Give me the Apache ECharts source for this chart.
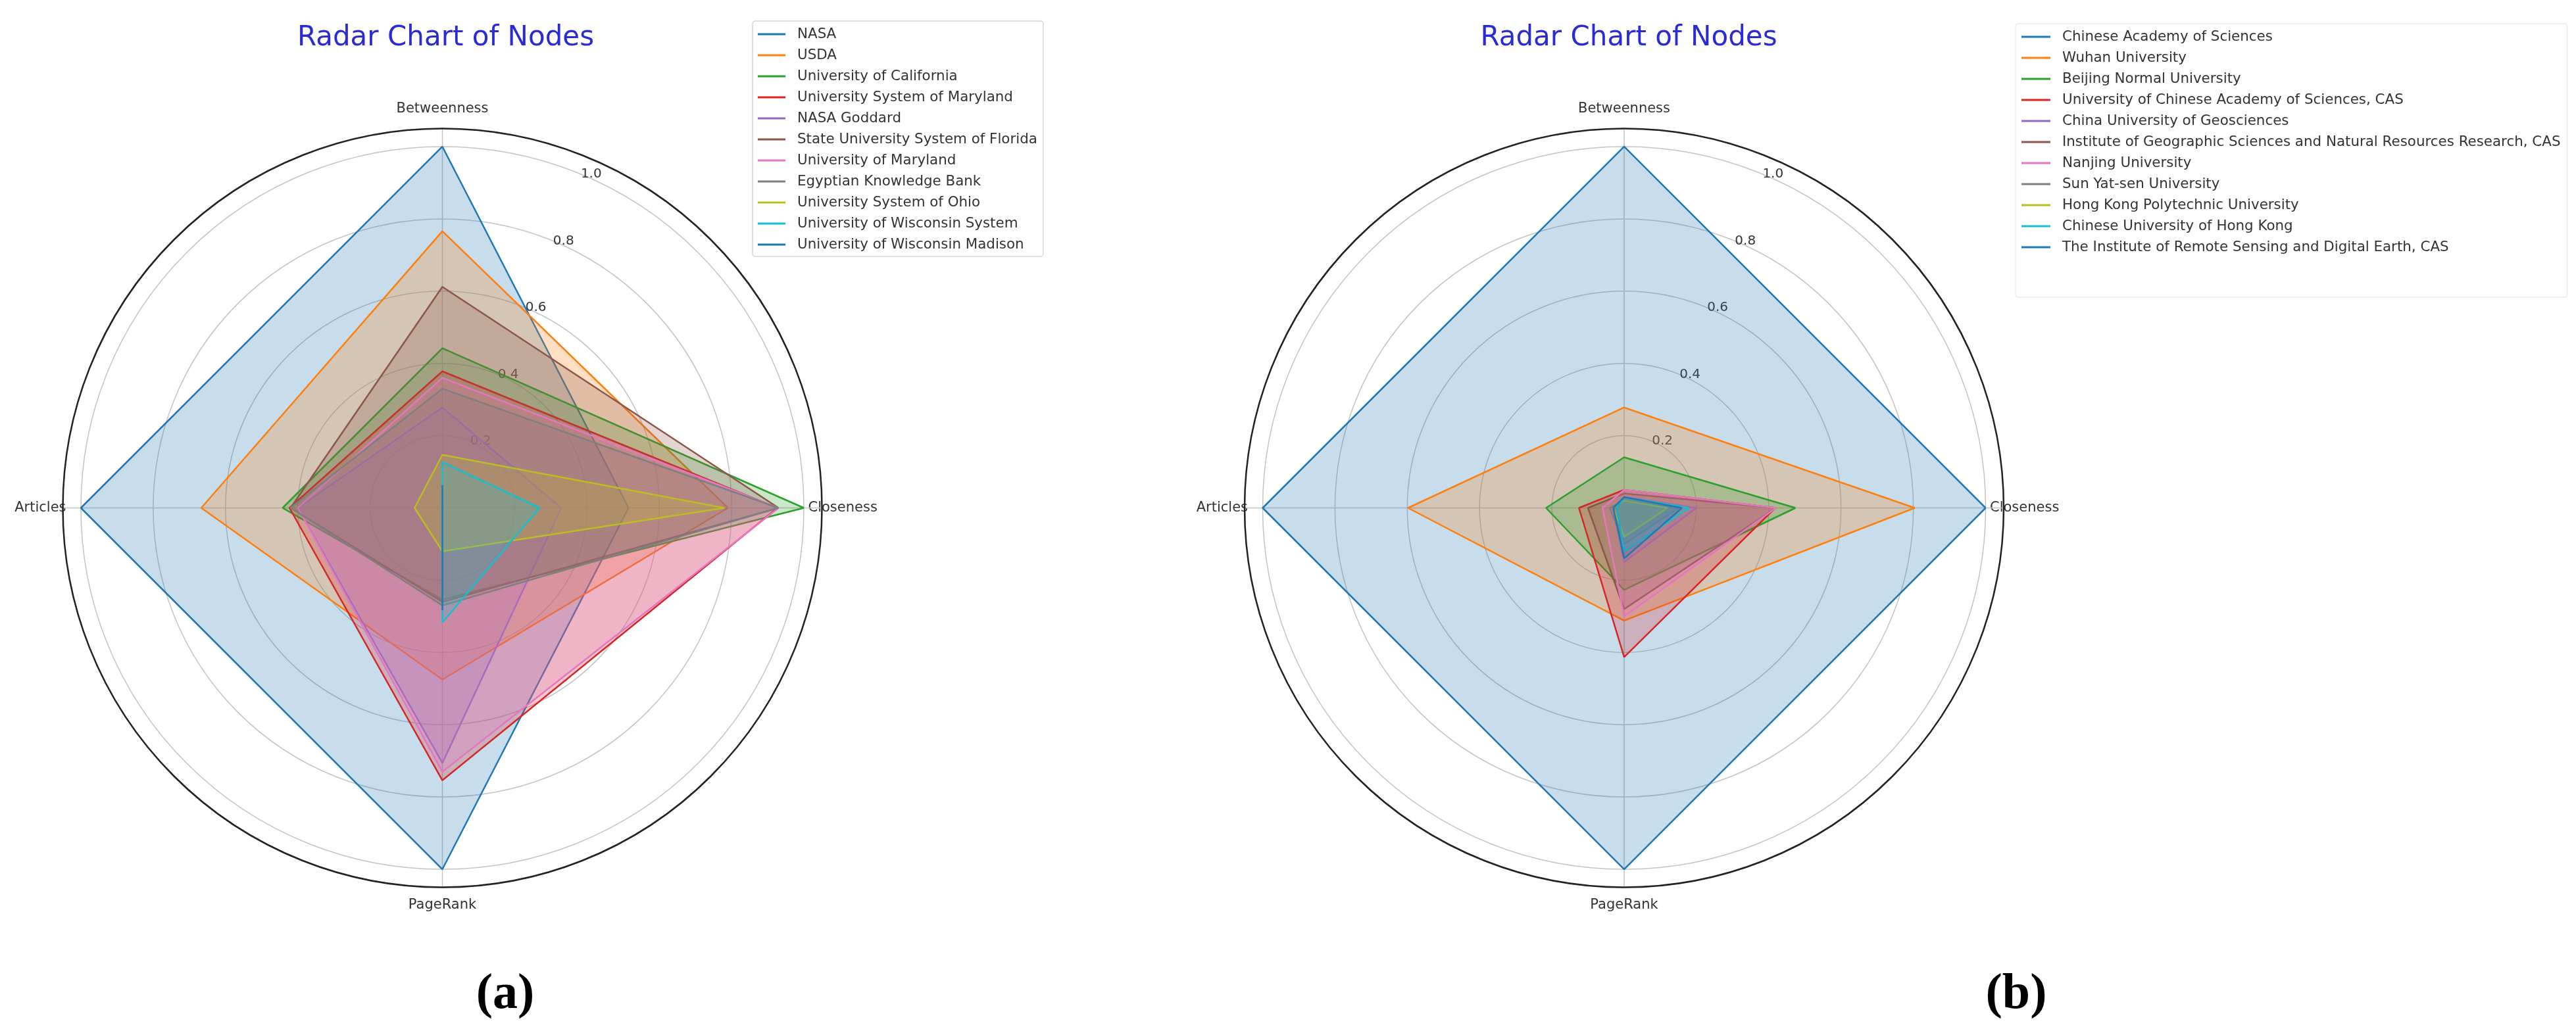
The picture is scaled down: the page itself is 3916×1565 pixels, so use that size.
<!DOCTYPE html>
<html>
<head>
<meta charset="utf-8">
<title>Radar Chart of Nodes</title>
<script src="https://cdn.jsdelivr.net/npm/echarts@6/dist/echarts.min.js"></script>
<style>
  html, body { margin: 0; padding: 0; background: #fff; }
  #chart { width: 3916px; height: 1565px; }
</style>
</head>
<body>
<div id="chart"></div>
<script>
// axes of both radars, counter-clockwise from the right
const indicators = ['Closeness', 'Betweenness', 'Articles', 'PageRank']

// panel (a)
const namesA = [
  'NASA', 'USDA', 'University of California', 'University System of Maryland',
  'NASA Goddard', 'State University System of Florida', 'University of Maryland',
  'Egyptian Knowledge Bank', 'University System of Ohio',
  'University of Wisconsin System', 'University of Wisconsin Madison'
]
const closenessA   = [0.515, 0.79, 1.0, 0.927, 0.329, 0.93, 0.93, 0.93, 0.78, 0.269, 0.0]
const betweennessA = [1.0, 0.766, 0.442, 0.378, 0.278, 0.612, 0.36, 0.33, 0.147, 0.127, 0.063]
const articlesA    = [1.0, 0.667, 0.442, 0.423, 0.40, 0.42, 0.40, 0.42, 0.077, 0.0, 0.0]
const pageRankA    = [1.0, 0.475, 0.254, 0.754, 0.706, 0.26, 0.73, 0.27, 0.12, 0.317, 0.283]

// panel (b)
const namesB = [
  'Chinese Academy of Sciences', 'Wuhan University', 'Beijing Normal University',
  'University of Chinese Academy of Sciences, CAS', 'China University of Geosciences',
  'Institute of Geographic Sciences and Natural Resources Research, CAS',
  'Nanjing University', 'Sun Yat-sen University', 'Hong Kong Polytechnic University',
  'Chinese University of Hong Kong', 'The Institute of Remote Sensing and Digital Earth, CAS'
]
const closenessB   = [1.0, 0.804, 0.474, 0.418, 0.20, 0.42, 0.42, 0.15, 0.12, 0.18, 0.16]
const betweennessB = [1.0, 0.278, 0.14, 0.05, 0.03, 0.04, 0.05, 0.02, 0.02, 0.03, 0.03]
const articlesB    = [1.0, 0.598, 0.216, 0.125, 0.03, 0.10, 0.06, 0.04, 0.03, 0.02, 0.03]
const pageRankB    = [1.0, 0.312, 0.227, 0.413, 0.15, 0.28, 0.30, 0.10, 0.08, 0.12, 0.14]

const radialTicks = [0.2, 0.4, 0.6, 0.8, 1.0]

const palette = ['#1f77b4', '#ff7f0e', '#2ca02c', '#d62728', '#9467bd',
  '#8c564b', '#e377c2', '#7f7f7f', '#bcbd22', '#17becf']

const chart = echarts.init(document.getElementById('chart'), null, { renderer: 'canvas' })

const step = 360 / indicators.length
const rMax = 1.05
const centers = [[672.5, 772.5], [2469, 772.5]]
const radius = 577
const labelFont = 'DejaVu Sans'

const buildSeries = (names, cols, polarIndex) => names.map((name, i) => {
  const vals = cols.map(c => c[i])
  const pts = vals.map((v, k) => [v, k * step])
  pts.push([vals[0], 360])
  const color = palette[i % palette.length]
  return {
    name,
    type: 'line',
    coordinateSystem: 'polar',
    polarIndex,
    data: pts,
    symbol: 'none',
    silent: true,
    lineStyle: { width: 2.5, color },
    itemStyle: { color },
    areaStyle: { color, opacity: 0.25 },
    z: 3 + i
  }
})

const rich = {
  r: {},
  t: { padding: [0, 0, 40, 0] },
  l: { padding: [0, 16, 0, 0] },
  b: { padding: [38, 0, 0, 0] }
}
const posKey = ['r', 't', 'l', 'b']

const polar = []
const angleAxis = []
const radiusAxis = []
centers.forEach((c) => {
  // main polar: grid circles, spokes, category labels
  polar.push({ center: c, radius })
  angleAxis.push({
    polarIndex: polar.length - 1,
    type: 'value',
    min: 0,
    max: 360,
    interval: step,
    startAngle: 0,
    clockwise: false,
    axisLine: { lineStyle: { color: '#222', width: 2.5 } },
    axisTick: { show: false },
    splitLine: { lineStyle: { color: '#c4c4c4', width: 1.5 } },
    axisLabel: {
      margin: -21,
      color: '#333',
      fontFamily: labelFont,
      fontSize: 21,
      formatter: (v) => {
        const k = Math.round(v / step)
        return k < indicators.length ? `{${posKey[k]}|${indicators[k]}}` : ''
      },
      rich
    }
  })
  radiusAxis.push({
    polarIndex: polar.length - 1,
    type: 'value',
    min: 0,
    max: rMax,
    interval: 0.2,
    axisLine: { show: false },
    axisTick: { show: false },
    axisLabel: { show: false },
    splitLine: { lineStyle: { color: '#c4c4c4', width: 1.5 } }
  })
  // overlay polar only for the radial tick labels (matplotlib puts them at 22.5deg)
  polar.push({ center: c, radius })
  angleAxis.push({
    polarIndex: polar.length - 1,
    type: 'value',
    min: 0,
    max: 360,
    startAngle: 67.5,
    show: false
  })
  radiusAxis.push({
    polarIndex: polar.length - 1,
    type: 'value',
    min: 0,
    max: rMax,
    interval: 0.2,
    axisLine: { show: false },
    axisTick: { show: false },
    splitLine: { show: false },
    axisLabel: {
      margin: 0,
      align: 'center',
      verticalAlign: 'middle',
      padding: [0, 0, 24, 32],
      color: '#333',
      fontFamily: labelFont,
      fontSize: 20,
      showMinLabel: false,
      showMaxLabel: false,
      formatter: (v) => radialTicks.some(t => Math.abs(t - v) < 1e-6) ? v.toFixed(1) : ''
    }
  })
})

const legendBase = {
  orient: 'vertical',
  icon: 'rect',
  itemHeight: 3,
  itemGap: 8,
  backgroundColor: 'rgba(255,255,255,0.8)',
  borderWidth: 1.5,
  borderRadius: 4,
  selectedMode: false,
  textStyle: { fontFamily: labelFont, fontSize: 21.4, lineHeight: 24, color: '#333', padding: [0, 0, 0, 13] }
}

const subLabel = (letter, x) => ({
  text: `{p|(}{a|${letter}}{p|)}`, left: x, top: 1470, textAlign: 'center',
  textStyle: { rich: {
    p: { fontFamily: 'Liberation Serif', fontSize: 76, color: '#000' },
    a: { fontFamily: 'Liberation Serif', fontSize: 76, fontWeight: 'bold', color: '#000' } } }
})

const option = {
  backgroundColor: '#fff',
  animation: false,
  title: [
    { text: 'Radar Chart of Nodes', left: 672.5, top: 32, textAlign: 'center',
      textStyle: { color: '#2b2bd4', fontFamily: labelFont, fontSize: 42, fontWeight: 'normal' } },
    { text: 'Radar Chart of Nodes', left: 2471, top: 32, textAlign: 'center',
      textStyle: { color: '#2b2bd4', fontFamily: labelFont, fontSize: 42, fontWeight: 'normal' } },
    subLabel('a', 763),
    subLabel('b', 3060)
  ],
  legend: [
    { ...legendBase, left: 1144, top: 32, itemWidth: 42, data: namesA,
      borderColor: '#d6d6d6', padding: [8, 9, 6, 8] },
    { ...legendBase, left: 3064, top: 36, itemWidth: 44, data: namesB,
      borderColor: '#eaeaea', padding: [8, 10, 64, 9] }
  ],
  polar,
  angleAxis,
  radiusAxis,
  series: [
    ...buildSeries(namesA, [closenessA, betweennessA, articlesA, pageRankA], 0),
    ...buildSeries(namesB, [closenessB, betweennessB, articlesB, pageRankB], 2)
  ]
}

chart.setOption(option)
</script>
</body>
</html>
